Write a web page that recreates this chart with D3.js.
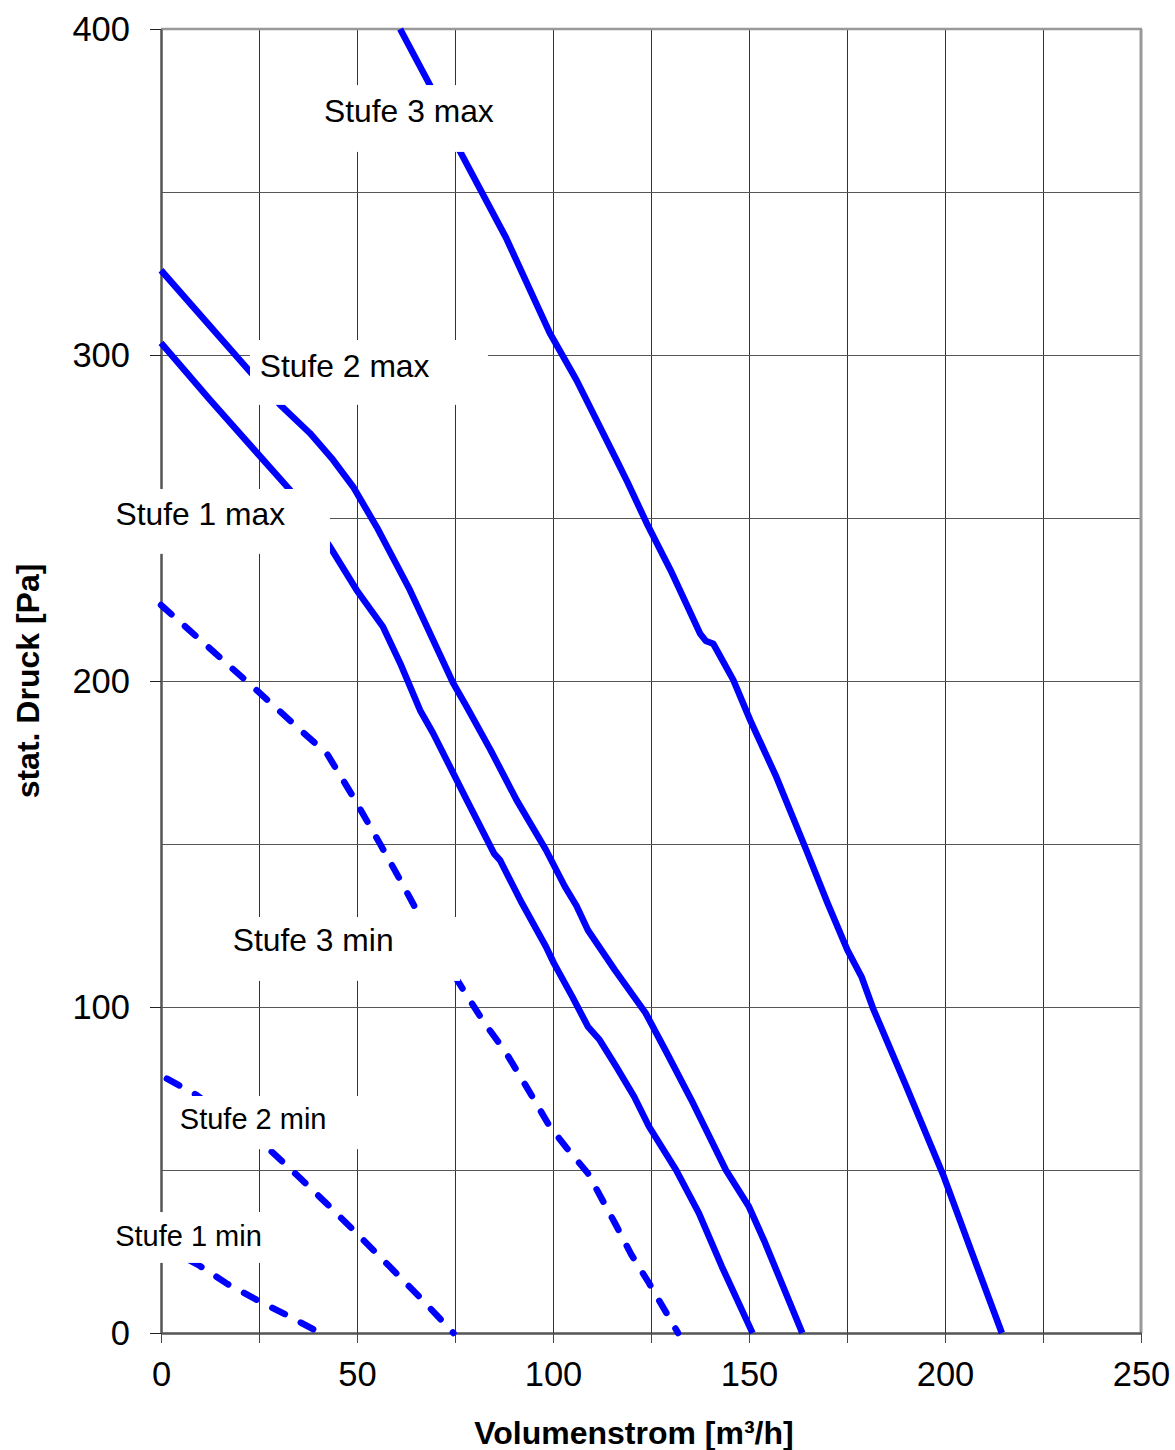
<!DOCTYPE html>
<html>
<head>
<meta charset="utf-8">
<script src="https://cdn.jsdelivr.net/npm/d3@7"></script>
<style>
  html, body { margin: 0; padding: 0; background: #fff; }
  svg { display: block; }
  text { font-family: "Liberation Sans", Arial, sans-serif; }
</style>
</head>
<body>
<svg id="chart" width="1175" height="1450"></svg>
<script>
// ---- data ----
const xTicks = [0, 25, 50, 75, 100, 125, 150, 175, 200, 225, 250];
const xTickLabels = ["0", "", "50", "", "100", "", "150", "", "200", "", "250"];
const yTicks = [0, 100, 200, 300, 400];
const yTickLabels = ["0", "100", "200", "300", "400"];
const yGrid = [50, 100, 150, 200, 250, 300, 350];

const stufe3max = [[61,400],[68.6,382.8],[76.3,362.4],[88,336],[99.2,306.7],[106,292.3],[116.2,267.8],[119,261],[123.9,248.4],[130,234],[137.5,214.6],[139,212.3],[140.9,211.4],[142,209],[146,200.3],[150.3,188],[157,170.5],[164.6,148.2],[170,132],[175.1,117.5],[178.7,109.3],[181.6,99.7],[190,76],[199.7,48],[206.6,25.5],[214.5,0]];
const stufe2max = [[0,326],[22.7,294.9],[30.4,284.7],[38,276],[43.9,267.8],[49,259.6],[55,247.3],[63.5,227.9],[69.4,212.6],[74.5,199.4],[78,192.1],[84,179],[90.7,163.5],[98.2,148.2],[103,137],[106,131],[108.9,123.6],[115.8,111.3],[123.6,98.2],[129,86],[135.3,71.5],[144.1,50],[150,38.7],[153.8,28.5],[163.6,0]];
const stufe1max = [[0,303.7],[12.5,286.2],[32.9,258.6],[43.1,241.2],[49.9,227.9],[56.6,216.7],[61,205.5],[66.1,191],[69.4,184],[78,163.5],[85,147],[86.5,145],[92,132],[98.2,118.5],[100.2,113.5],[105,103],[108.9,94],[111.9,89.9],[116,82],[120.7,72.5],[124.5,63.3],[131.4,50],[137.2,36.8],[143.1,20.3],[150.9,0]];
const stufe3min = [[0,223.3],[12,210.5],[25.3,196.2],[35.5,185],[42.3,177.8],[49,164.5],[55.9,150],[61,139],[66.1,127.7],[71,118],[75.8,107.8],[82,96],[88,86],[93,76],[99.2,63.3],[104,56],[108.9,49],[115.8,33.7],[120,24],[124.5,15.3],[131.9,0]];
const stufe2min = [[1.5,78],[9.1,73],[20,63],[27.8,56.1],[35.5,47.5],[42,40],[49.9,30.6],[58.4,20.3],[66,11],[74.6,0]];
const stufe1min = [[0,27],[9.5,20.9],[17,15],[25.3,9.6],[32.9,5],[40.6,0]];

const seriesNames = ["Stufe 3 max", "Stufe 2 max", "Stufe 1 max", "Stufe 3 min", "Stufe 2 min", "Stufe 1 min"];
const seriesData = [stufe3max, stufe2max, stufe1max, stufe3min, stufe2min, stufe1min];
const seriesDashed = [false, false, false, true, true, true];

const xTitle = "Volumenstrom [m³/h]";
const yTitle = "stat. Druck [Pa]";

// label annotations (data coordinates): box [x0,x1,y0,y1], text anchor [x,y], font size
const labelBoxes = [
  {x0: 35.5, x1: 91.6, y0: 362.3, y1: 382.8, tx: 41.6, ty: 371.6, fs: 31.8},
  {x0: 22.7, x1: 83.4, y0: 284.7, y1: 304.6, tx: 25.2, ty: 293.3, fs: 31.8},
  {x0: -14.3, x1: 43.1, y0: 239.0, y1: 258.9, tx: -11.6, ty: 248.0, fs: 31.8},
  {x0: 13.8, x1: 76.3, y0: 108.0, y1: 127.6, tx: 18.3, ty: 117.1, fs: 31.8},
  {x0: 2.3, x1: 53.8, y0: 56.4, y1: 72.7, tx: 4.8, ty: 62.6, fs: 29},
  {x0: -14.3, x1: 31.6, y0: 21.5, y1: 37.1, tx: -11.7, ty: 26.7, fs: 29}
];

// ---- chart ----
const svg = d3.select("#chart");
const x = d3.scaleLinear().domain([0, 250]).range([161, 1141]);
const y = d3.scaleLinear().domain([0, 400]).range([1333, 29]);

// gridlines
const grid = svg.append("g");
grid.selectAll("line.v").data(xTicks.slice(1, -1)).join("line")
  .attr("x1", d => x(d)).attr("x2", d => x(d))
  .attr("y1", y(400)).attr("y2", y(0))
  .attr("stroke", "#333").attr("stroke-width", 1).attr("shape-rendering", "crispEdges");
grid.selectAll("line.h").data(yGrid).join("line")
  .attr("x1", x(0)).attr("x2", x(250))
  .attr("y1", d => y(d)).attr("y2", d => y(d))
  .attr("stroke", "#555").attr("stroke-width", 1).attr("shape-rendering", "crispEdges");

// top & right border
svg.append("line").attr("x1", x(0)).attr("x2", x(250) + 1).attr("y1", y(400)).attr("y2", y(400))
  .attr("stroke", "#999").attr("stroke-width", 2.5);
svg.append("line").attr("x1", x(250)).attr("x2", x(250)).attr("y1", y(400)).attr("y2", y(0))
  .attr("stroke", "#999").attr("stroke-width", 3);

// axes
const xAxis = d3.axisBottom(x).tickValues(xTicks).tickSize(10).tickSizeOuter(0)
  .tickFormat((d, i) => xTickLabels[i]);
const gx = svg.append("g").attr("transform", `translate(0,${y(0)})`).call(xAxis);
gx.select(".domain").attr("stroke", "#555").attr("stroke-width", 2.5);
gx.selectAll(".tick line").attr("stroke", "#444").attr("stroke-width", 1);
gx.selectAll(".tick text").attr("font-size", 34.5).attr("fill", "#000")
  .attr("font-family", "'Liberation Sans', Arial, sans-serif").attr("dy", "1.0em").attr("y", 18);

const yAxis = d3.axisLeft(y).tickValues(yTicks).tickSize(11).tickSizeOuter(0)
  .tickFormat((d, i) => yTickLabels[i]);
const gy = svg.append("g").attr("transform", `translate(${x(0)},0)`).call(yAxis);
gy.select(".domain").attr("stroke", "#555").attr("stroke-width", 2.5);
gy.selectAll(".tick line").attr("stroke", "#222").attr("stroke-width", 1);
gy.selectAll(".tick text").attr("font-size", 34.5).attr("fill", "#000")
  .attr("font-family", "'Liberation Sans', Arial, sans-serif").attr("x", -31);

// series
const line = d3.line().x(d => x(d[0])).y(d => y(d[1]));
svg.append("g").selectAll("path").data(seriesData).join("path")
  .attr("d", d => line(d))
  .attr("fill", "none")
  .attr("stroke", "#0000ff")
  .attr("stroke-width", 6.5)
  .attr("stroke-linejoin", "round")
  .attr("stroke-linecap", (d, i) => seriesDashed[i] ? "round" : "butt")
  .attr("stroke-dasharray", (d, i) => seriesDashed[i] ? "14 18" : null);

// labels with white boxes
const lg = svg.append("g");
labelBoxes.forEach((b, i) => {
  lg.append("rect")
    .attr("x", x(b.x0)).attr("y", y(b.y1))
    .attr("width", x(b.x1) - x(b.x0)).attr("height", y(b.y0) - y(b.y1))
    .attr("fill", "#fff");
  lg.append("text")
    .attr("x", x(b.tx)).attr("y", y(b.ty))
    .attr("font-size", b.fs).attr("fill", "#000")
    .text(seriesNames[i]);
});

// axis titles
svg.append("text").attr("x", 634).attr("y", 1444).attr("text-anchor", "middle")
  .attr("font-size", 32).attr("font-weight", "bold").attr("fill", "#000").text(xTitle);
svg.append("text").attr("transform", `translate(39,${(y(0) + y(400)) / 2}) rotate(-90)`)
  .attr("text-anchor", "middle")
  .attr("font-size", 32).attr("font-weight", "bold").attr("fill", "#000").text(yTitle);
</script>
</body>
</html>
